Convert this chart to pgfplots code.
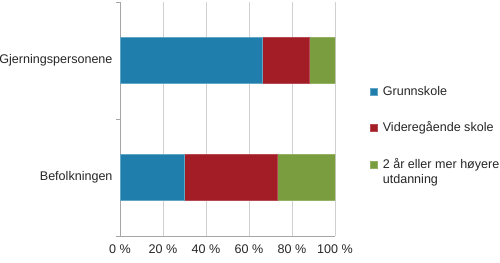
\documentclass[border=0pt]{standalone}
\usepackage{fontspec}
\setmainfont{Liberation Sans}
\usepackage{pgfplots}
\pgfplotsset{compat=1.18}
\definecolor{cblue}{HTML}{1F7EAB}
\definecolor{cred}{HTML}{A31D27}
\definecolor{cgreen}{HTML}{7A9E3F}
\definecolor{axgray}{HTML}{A6A6A6}
\definecolor{gridgray}{HTML}{D0D0D0}
\definecolor{txt}{HTML}{262626}
\begin{document}
\begin{tikzpicture}
\path[use as bounding box] (0,0) rectangle (500bp,263bp);
\begin{axis}[
  at={(120bp,27bp)}, anchor=south west,
  scale only axis, width=215bp, height=234bp,
  xbar stacked, bar width=46bp,
  xmin=0, xmax=100, ymin=-0.5, ymax=1.5,
  axis x line*=bottom, axis y line*=left,
  axis line style={draw=axgray, line width=0.8bp},
  xtick={0,20,40,60,80,100},
  xticklabels={0 \%,20 \%,40 \%,60 \%,80 \%,100 \%},
  ytick={0,1},
  yticklabels={Befolkningen,Gjerningspersonene},
  xmajorgrids, major grid style={draw=gridgray, line width=0.9bp},
  xtick style={draw=none}, ytick style={draw=none},
  extra y ticks={-0.5,0.5,1.5}, extra y tick labels={},
  extra y tick style={ytick style={draw=axgray, line width=0.8bp}, major tick length=4bp, tick align=outside},
  ticklabel style={font=\fontsize{12.6}{15}\selectfont, text=txt},
  yticklabel style={xshift=-4bp},
  xticklabel style={yshift=-5bp},
  legend style={at={(1.15,0.652)}, anchor=north west, draw=none, fill=none,
     font=\fontsize{12.6}{16}\selectfont, text=txt, row sep=22.5bp, column sep=4bp,
     cells={anchor=base west}, nodes={inner sep=1bp}},
  legend image code/.code={\fill[#1] (0bp,0.5bp) rectangle (7bp,7.5bp);},
]
\addplot[fill=cblue, draw=cblue!70!white, line width=0.4bp] coordinates {(30,0) (66,1)};
\addlegendentry{Grunnskole}
\addplot[fill=cred, draw=cred!80!white, line width=0.4bp] coordinates {(43,0) (22,1)};
\addlegendentry{Videregående skole}
\addplot[fill=cgreen, draw=cgreen!80!white, line width=0.4bp] coordinates {(27,0) (12,1)};
\addlegendentry{\begin{tabular}[t]{@{}l@{}}2 år eller mer høyere\\[-1bp]utdanning\end{tabular}}
\end{axis}
\end{tikzpicture}
\end{document}
